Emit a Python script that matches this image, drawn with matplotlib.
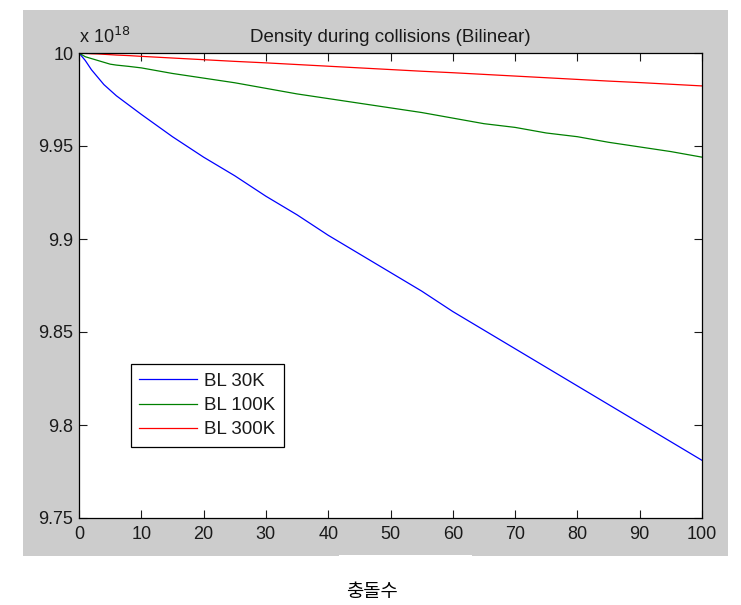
import matplotlib
matplotlib.use('Agg')
import matplotlib.pyplot as plt
from matplotlib.patches import Rectangle

plt.rcParams['font.family'] = ['Liberation Sans', 'DejaVu Sans']

# 충돌 횟수 (x) 와 밀도 (단위 1e18)
x = [0, 1, 2, 3, 4, 5, 6, 8, 10, 15, 20, 25, 30, 35, 40, 45, 50,
     55, 60, 65, 70, 75, 80, 85, 90, 95, 100]
bl_30k = [10.0, 9.996, 9.991, 9.987, 9.983, 9.980, 9.977, 9.972, 9.967,
          9.955, 9.944, 9.934, 9.923, 9.913, 9.902, 9.892, 9.882, 9.872,
          9.861, 9.851, 9.841, 9.831, 9.821, 9.811, 9.801, 9.791, 9.781]
bl_100k = [10.0, 9.998, 9.997, 9.996, 9.995, 9.994, 9.9935, 9.9928, 9.992,
           9.989, 9.9865, 9.984, 9.981, 9.978, 9.9755, 9.973, 9.9705, 9.968,
           9.965, 9.962, 9.960, 9.957, 9.955, 9.952, 9.9495, 9.947, 9.944]
bl_300k = [10.0, 9.9998, 9.9996, 9.9995, 9.9993, 9.9991, 9.9989, 9.9986,
           9.9982, 9.9973, 9.9964, 9.9955, 9.9947, 9.9938, 9.9929, 9.9920,
           9.9911, 9.9902, 9.9894, 9.9885, 9.9876, 9.9867, 9.9858, 9.9849,
           9.9841, 9.9832, 9.9823]
labels = ['BL 30K', 'BL 100K', 'BL 300K']
xticks = [0, 10, 20, 30, 40, 50, 60, 70, 80, 90, 100]
yticks = [9.75, 9.8, 9.85, 9.9, 9.95, 10]
yticklabels = ['9.75', '9.8', '9.85', '9.9', '9.95', '10']

W, H = 741, 605
fig = plt.figure(figsize=(W / 100, H / 100), dpi=100, facecolor='white')

# 회색 figure 영역 (MATLAB 스타일)
fig.patches.append(Rectangle((23 / W, 1 - 556 / H), (728 - 23) / W, (556 - 10) / H,
                             transform=fig.transFigure, facecolor='#cccccc',
                             edgecolor='none', zorder=-10))
fig.patches.append(Rectangle((339 / W, 1 - 557 / H), (472 - 339) / W, 2.5 / H,
                             transform=fig.transFigure, facecolor='white',
                             edgecolor='none', zorder=-9))

ax = fig.add_axes([79 / W, 1 - 518 / H, (702 - 79) / W, (518 - 53) / H])
ax.set_facecolor('white')

ax.plot(x, bl_30k, color='#0000ff', lw=0.9, label=labels[0])
ax.plot(x, bl_100k, color='#008000', lw=0.9, label=labels[1])
ax.plot(x, bl_300k, color='#ff0000', lw=0.9, label=labels[2])

ax.set_xlim(0, 100)
ax.set_ylim(9.75, 10)
ax.set_xticks(xticks)
ax.set_xticklabels([str(t) for t in xticks])
ax.set_yticks(yticks)
ax.set_yticklabels(yticklabels)
ax.tick_params(direction='in', length=6, width=0.8, top=True, right=True,
               labelsize=13, colors='#1a1a1a', pad=4)
ax.tick_params(axis='x', pad=6)
for s in ax.spines.values():
    s.set_linewidth(0.9)
    s.set_color('black')

ax.set_title('Density during collisions (Bilinear)', fontsize=13.5, pad=8,
             color='#1a1a1a')
ax.text(0, 1.012, r'x 10$^{18}$', transform=ax.transAxes, fontsize=13,
        ha='left', va='bottom', color='#1a1a1a')

leg = ax.legend(loc='lower left', bbox_to_anchor=(0.083, 0.153), borderaxespad=0,
                prop={'size': 13.5}, frameon=True, fancybox=False, framealpha=1,
                edgecolor='black', handlelength=3.1, handletextpad=0.35,
                labelspacing=0.38, borderpad=0.45)
leg.get_frame().set_linewidth(0.9)
for t in leg.get_texts():
    t.set_color('#1a1a1a')

fig.text(372 / W, 1 - 592 / H, '충돌수', fontsize=13.5, ha='center', va='center',
         family=['Noto Sans CJK KR', 'DejaVu Sans'], weight='light')

fig.savefig('out.png', dpi=100, facecolor='white')
